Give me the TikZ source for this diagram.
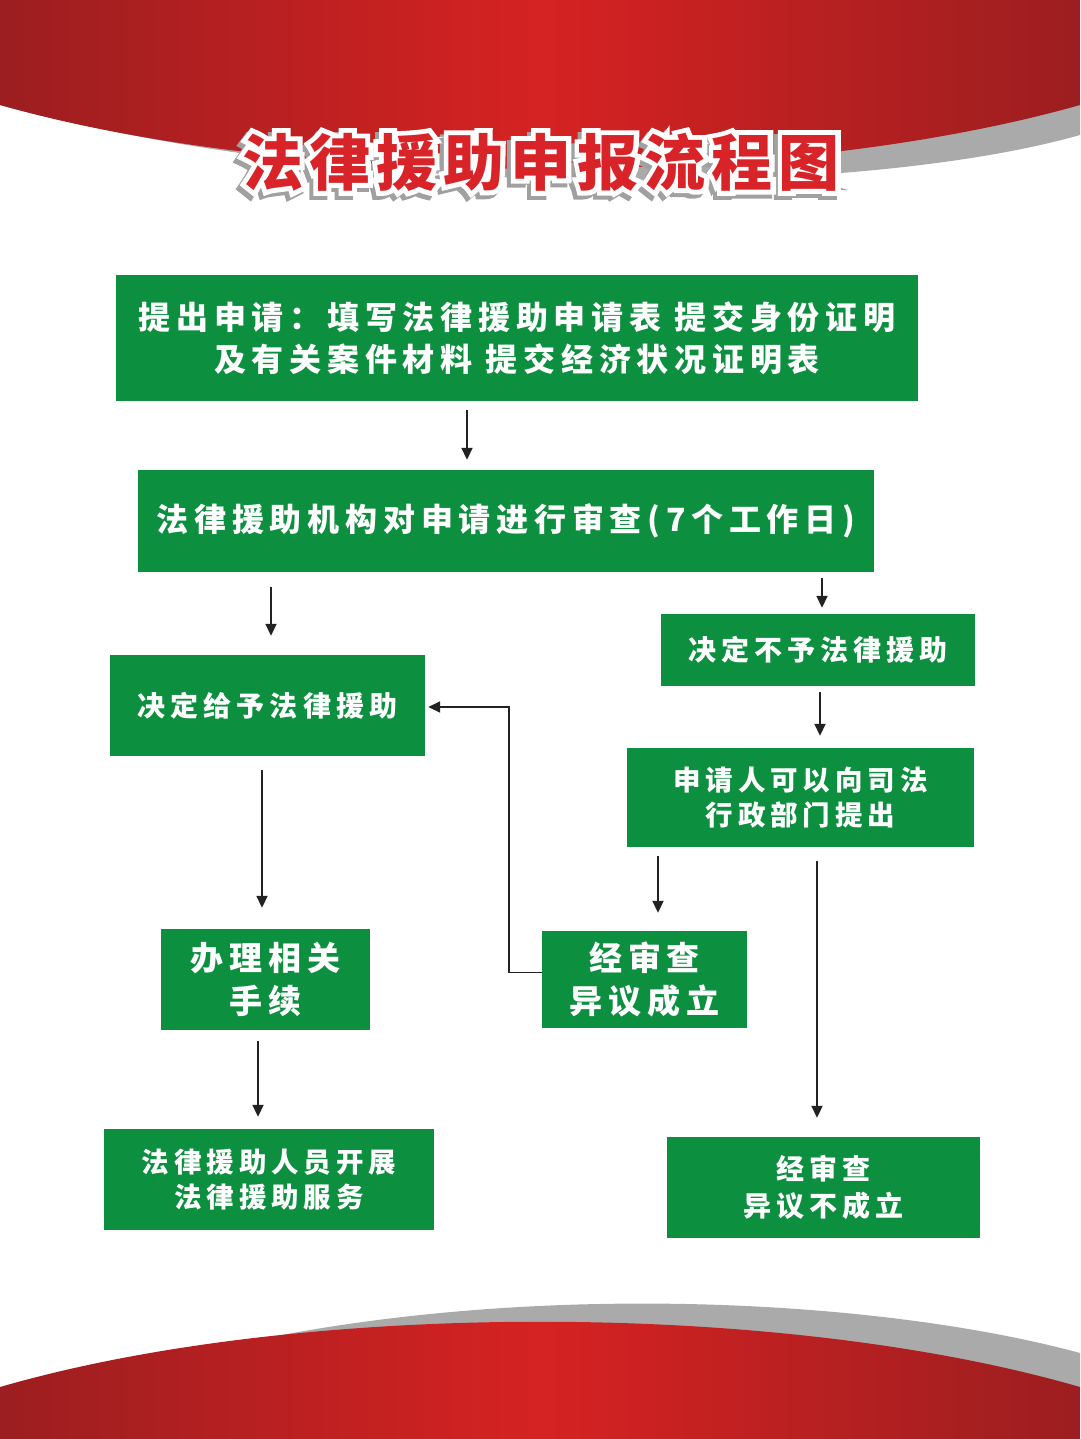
\documentclass[tikz,border=0pt]{standalone}
\usepackage{fontspec}
\usetikzlibrary{arrows.meta}
\newfontfamily\cjk{Noto Sans CJK SC}[LetterSpace=18]
\newfontfamily\cjkt{Noto Sans CJK SC}[LetterSpace=10]
\newfontfamily\cjkto{Noto Sans CJK SC}[LetterSpace=10,FakeBold=16]
\definecolor{boxgreen}{RGB}{12,143,62}
\definecolor{redEdge}{RGB}{156,30,32}
\definecolor{redMid}{RGB}{214,34,34}
\definecolor{greyband}{RGB}{170,170,170}
\definecolor{titlered}{RGB}{216,36,40}
\definecolor{shadowgrey}{RGB}{160,160,160}
\definecolor{arrowcol}{RGB}{34,34,34}
\newcommand\ttltxt{法律援助申报流程图}
\tikzset{
  gbox/.style={fill=boxgreen, text=white, align=center, inner sep=0pt, anchor=center},
  arr/.style={draw=arrowcol, line width=1.8pt, -{Triangle[length=12pt,width=11pt]}},
  ttl/.style={inner sep=0pt, font={\cjkt\bfseries\fontsize{61}{66}\selectfont}},
  ttlo/.style={inner sep=0pt, font={\cjkto\bfseries\fontsize{61}{66}\selectfont}},
}
\begin{document}
\begin{tikzpicture}[x=1pt,y=-1pt]
\useasboundingbox (0,0) rectangle (1080,1439);
\fill[white] (0,0) rectangle (1080,1439);
% top banner
\fill[greyband] (0,0) -- (0,105) .. controls (350,200) and (850,200) .. (1080,135) -- (1080,0) -- cycle;
\shade[left color=redEdge, right color=redEdge, middle color=redMid] (0,0) -- (0,105) .. controls (300,190) and (780,190) .. (1080,105) -- (1080,0) -- cycle;
% bottom banner
\fill[greyband] (0,1439) -- (0,1420) .. controls (330,1270) and (830,1285) .. (1080,1353) -- (1080,1439) -- cycle;
\shade[left color=redEdge, right color=redEdge, middle color=redMid] (0,1439) -- (0,1387) .. controls (300,1300) and (780,1300) .. (1080,1387) -- (1080,1439) -- cycle;
% title: shadow, white outline, red text
\node[ttlo, text=shadowgrey, xshift=-4pt, yshift=-4pt] (tshadow) at (541,162) {\ttltxt};
\node[ttlo, text=white] (toutline) at (541,162) {\ttltxt};
\node[ttl, text=titlered] (title) at (541,162) {\ttltxt};
% boxes
\node[gbox, minimum width=802pt, minimum height=126pt, font={\cjk\bfseries\fontsize{32}{42}\selectfont}] (b1) at (517,338)
  {提出申请：填写法律援助申请表 提交身份证明\\及有关案件材料 提交经济状况证明表};
\node[gbox, minimum width=736pt, minimum height=102pt, font={\cjk\bfseries\fontsize{32}{40}\selectfont}] (b2) at (506,521)
  {法律援助机构对申请进行审查(7个工作日)};
\node[gbox, minimum width=315pt, minimum height=101pt, font={\cjk\bfseries\fontsize{28}{35}\selectfont}] (b3) at (267.5,705.5)
  {决定给予法律援助};
\node[gbox, minimum width=314pt, minimum height=72pt, font={\cjk\bfseries\fontsize{28}{35}\selectfont}] (b4) at (818,650)
  {决定不予法律援助};
\node[gbox, minimum width=347pt, minimum height=99pt, font={\cjk\bfseries\fontsize{27.5}{35}\selectfont}] (b5) at (800.5,797.5)
  {申请人可以向司法\\行政部门提出};
\node[gbox, minimum width=209pt, minimum height=101pt, font={\cjk\bfseries\fontsize{33}{43}\selectfont}] (b6) at (265.5,979.5)
  {办理相关\\手续};
\node[gbox, minimum width=205pt, minimum height=97pt, font={\cjk\bfseries\fontsize{33}{43}\selectfont}] (b7) at (644.5,979.5)
  {经审查\\异议成立};
\node[gbox, minimum width=330pt, minimum height=101pt, font={\cjk\bfseries\fontsize{27.5}{35}\selectfont}] (b8) at (269,1179.5)
  {法律援助人员开展\\法律援助服务};
\node[gbox, minimum width=313pt, minimum height=101pt, font={\cjk\bfseries\fontsize{28}{37}\selectfont}] (b9) at (823.5,1187.5)
  {经审查\\异议不成立};
% arrows
\coordinate (a1) at ([xshift=-50pt]b1.south);
\draw[arr, shorten <=9pt, shorten >=10pt] (a1) -- (a1 |- b2.north);
\coordinate (a2) at ([xshift=-235pt]b2.south);
\draw[arr, shorten <=15pt, shorten >=19pt] (a2) -- (a2 |- b3.north);
\coordinate (a3) at ([xshift=4pt]b4.north);
\draw[arr, shorten <=6pt, shorten >=6pt] (a3 |- b2.south) -- (a3);
\coordinate (a4) at ([xshift=2pt]b4.south);
\draw[arr, shorten <=6pt, shorten >=12pt] (a4) -- (a4 |- b5.north);
\coordinate (a5) at ([xshift=-5.5pt]b3.south);
\draw[arr, shorten <=14pt, shorten >=21pt] (a5) -- (a5 |- b6.north);
\coordinate (a6) at ([xshift=13.5pt]b7.north);
\draw[arr, shorten <=9pt, shorten >=18pt] (a6 |- b5.south) -- (a6);
\coordinate (a7) at ([xshift=16.5pt]b5.south);
\draw[arr, shorten <=14pt, shorten >=19pt] (a7) -- (a7 |- b9.north);
\coordinate (a8) at ([xshift=-7.5pt]b6.south);
\draw[arr, shorten <=11pt, shorten >=12pt] (a8) -- (a8 |- b8.north);
\coordinate (a9) at ([yshift=7pt]b7.west);
\draw[arr, shorten >=3pt] (a9) -- ++(-33,0) |- ([yshift=-1.5pt]b3.east);
\end{tikzpicture}
\end{document}
